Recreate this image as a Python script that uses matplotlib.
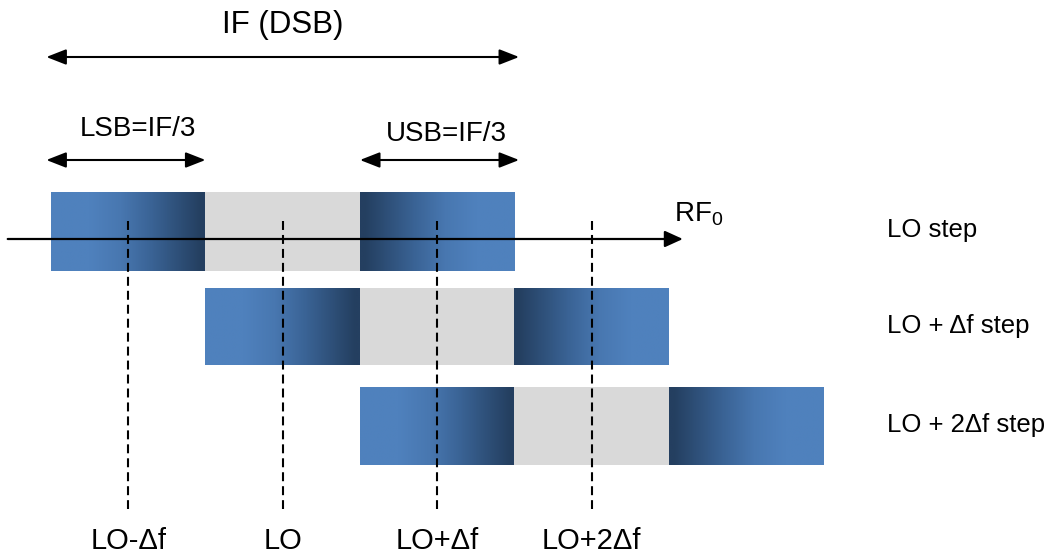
import numpy as np
import matplotlib
matplotlib.use("Agg")
import matplotlib.pyplot as plt
from matplotlib.colors import LinearSegmentedColormap

plt.rcParams['font.family'] = ['Liberation Sans', 'DejaVu Sans']
plt.rcParams['mathtext.fontset'] = 'custom'
plt.rcParams['mathtext.rm'] = 'Liberation Sans'
plt.rcParams['mathtext.it'] = 'Liberation Sans'

# LO steps (offset of each band set, in units of delta f)
steps = [0, 1, 2]
step_labels = ["LO step", "LO + Δf step", "LO + 2Δf step"]
# segments of one DSB band, relative to step start: LSB, gap, USB
seg_start = [0, 1, 2]
seg_kind = ["lsb", "gap", "usb"]
# LO markers on the frequency axis
marker_pos = [0.5, 1.5, 2.5, 3.5]
marker_labels = ["LO-Δf", "LO", "LO+Δf", "LO+2Δf"]

light = "#4F81BD"
mid = "#3A6395"
dark = "#243F60"
gap_col = "#D9D9D9"

cm_lsb = LinearSegmentedColormap.from_list(
    "lsb", [(0, light), (0.25, light), (0.45, "#4877B0"), (0.65, mid), (0.97, dark), (1, dark)])
cm_usb = LinearSegmentedColormap.from_list(
    "usb", [(0, dark), (0.03, dark), (0.35, mid), (0.55, "#4877B0"), (0.75, light), (1, light)])

fig = plt.figure(figsize=(10.49, 5.58), dpi=100)
ax = fig.add_axes([0, 0, 1, 1])
ax.axis('off')

row_top = [192, 288, 387]
row_bot = [271, 365, 465]
grad = np.linspace(0, 1, 256).reshape(1, -1)

for i, s in enumerate(steps):
    for st, kind in zip(seg_start, seg_kind):
        x0 = s + st
        ext = (x0, x0 + 1, row_bot[i], row_top[i])
        if kind == "gap":
            ax.fill_between([x0, x0 + 1], row_top[i], row_bot[i], color=gap_col, lw=0)
        else:
            ax.imshow(grad, cmap=cm_lsb if kind == "lsb" else cm_usb, extent=ext,
                      aspect='auto', interpolation='bilinear')
    ax.text(5.41, (row_top[i] + row_bot[i]) / 2 + 6, step_labels[i], fontsize=18.5,
            ha='left', va='baseline')

ax.set_xlim(-0.330, 6.460)
ax.set_ylim(558, 0)

# RF axis
ax.annotate("", xy=(4.09, 239), xytext=(-0.28, 239),
            arrowprops=dict(arrowstyle='-|>,head_length=1.1,head_width=0.5', mutation_scale=10,
                            lw=1.6, color='black', shrinkA=0, shrinkB=0))
ax.text(4.03, 222, r"RF$_0$", fontsize=20, ha='left', va='baseline')

# dashed LO lines
for p, lab in zip(marker_pos, marker_labels):
    ax.plot([p, p], [221, 509], color='black', lw=1.5, dashes=(4.3, 2.4))
    ax.text(p, 549, lab, fontsize=21, ha='center', va='baseline')

# bandwidth arrows
def dbl_arrow(xa, xb, y):
    ax.annotate("", xy=(xb, y), xytext=(xa, y),
                arrowprops=dict(arrowstyle='<|-|>,head_length=1.2,head_width=0.47', mutation_scale=10,
                                lw=1.5, color='black', shrinkA=0, shrinkB=0))

dbl_arrow(-0.03, 3.03, 57)
dbl_arrow(-0.03, 1.0, 160)
dbl_arrow(2.0, 3.03, 160)
ax.text(1.5, 33, "IF (DSB)", fontsize=22.5, ha='center', va='baseline')
ax.text(0.56, 136, "LSB=IF/3", fontsize=20, ha='center', va='baseline')
ax.text(2.56, 141, "USB=IF/3", fontsize=20, ha='center', va='baseline')

fig.savefig("out.png", dpi=100)
